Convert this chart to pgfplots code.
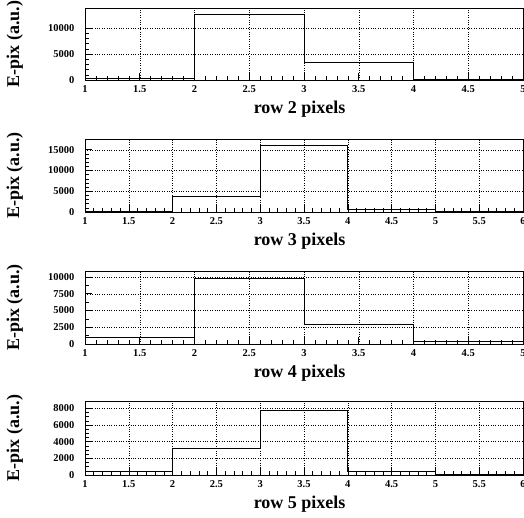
\documentclass[border=0pt]{standalone}
\usepackage{fontspec}
\setmainfont{Liberation Serif}
\usepackage{pgfplots}
\pgfplotsset{compat=1.18}

% common ROOT-like pad style
\pgfplotsset{
  rootpad/.style={
    scale only axis, width=438pt,
    anchor=south west,
    xmin=1, ymin=0,
    axis line style={line width=0.8pt},
    tick align=inside, xtick pos=left, ytick pos=left,
    tick style={black, line width=0.6pt},
    major tick length=7pt, minor tick length=3.5pt,
    minor x tick num=4,
    xmajorgrids, ymajorgrids,
    major grid style={dotted, black, line width=0.45pt},
    scaled y ticks=false,
    ticklabel style={font=\bfseries\fontsize{10.5}{12}\selectfont},
    /pgf/number format/assume math mode=true,
    /pgf/number format/1000 sep={},
    yticklabel style={xshift=-7pt},
    xticklabel style={yshift=-2pt},
    label style={font=\bfseries\fontsize{18}{20}\selectfont},
    xlabel style={at={(axis description cs:0.49,0)}, anchor=center, yshift=-29pt},
    ylabel style={at={(axis description cs:-0.16,0.5)}, anchor=center},
    ylabel={E-pix (a.u.)},
  },
  histo/.style={const plot, black, line width=0.8pt, mark=none},
}

\begin{document}
\begin{tikzpicture}
\useasboundingbox (0pt,0pt) rectangle (524pt,518pt);

% row 2
\begin{axis}[rootpad, at={(85pt,438pt)}, height=72pt,
    xmax=5, xtick={1,1.5,...,5},
    ymax=13900, ytick={0,5000,10000}, minor y tick num=4,
    xlabel={row 2 pixels}]
\addplot[histo] coordinates {(1,250)(2,12650)(3,3460)(4,200)(5,200)};
\end{axis}

% row 3
\begin{axis}[rootpad, at={(85pt,306pt)}, height=73pt,
    xmax=6, xtick={1,1.5,...,6},
    ymax=17600, ytick={0,5000,10000,15000}, minor y tick num=4,
    xlabel={row 3 pixels}]
\addplot[histo] coordinates {(1,200)(2,3700)(3,16000)(4,600)(5,100)(6,100)};
\end{axis}

% row 4
\begin{axis}[rootpad, at={(85pt,174pt)}, height=73pt,
    xmax=5, xtick={1,1.5,...,5},
    ymax=10900, ytick={0,2500,5000,7500,10000}, minor y tick num=1,
    xlabel={row 4 pixels}]
\addplot[histo] coordinates {(1,1040)(2,9750)(3,2870)(4,350)(5,350)};
\end{axis}

% row 5
\begin{axis}[rootpad, at={(85pt,43pt)}, height=74pt,
    xmax=6, xtick={1,1.5,...,6},
    ymax=8880, ytick={0,2000,4000,6000,8000}, minor y tick num=3,
    xlabel={row 5 pixels}]
\addplot[histo] coordinates {(1,400)(2,3160)(3,7800)(4,450)(5,100)(6,100)};
\end{axis}
\end{tikzpicture}
\end{document}
